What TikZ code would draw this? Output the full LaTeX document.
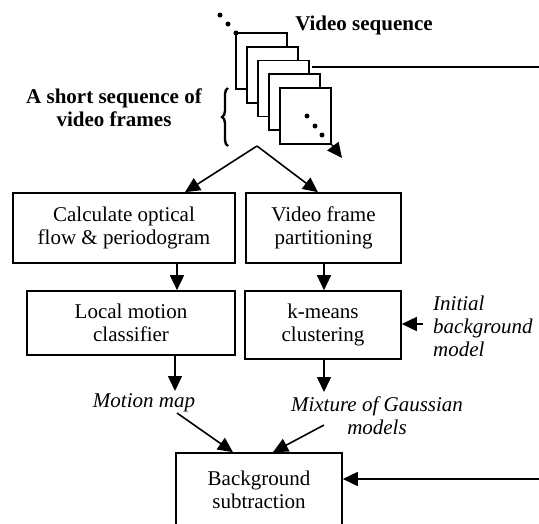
\documentclass[tikz,border=0pt]{standalone}
\usepackage{fontspec}
\setmainfont{Liberation Serif}
\usetikzlibrary{arrows.meta,decorations.pathreplacing}

\newcommand{\figfont}{\fontsize{21}{23}\selectfont}

\tikzset{
  box/.style={draw, line width=1.6pt, inner sep=0pt, align=center},
  arr/.style={line width=1.6pt, -{Triangle[length=15pt,width=14pt]}},
  frm/.style={draw, fill=white, line width=1.6pt, minimum width=51, minimum height=56, inner sep=0pt},
  lbl/.style={inner sep=0pt, align=center, font=\figfont\itshape},
  ttl/.style={inner sep=0pt, align=center, font=\figfont\bfseries}
}

\begin{document}
\begin{tikzpicture}[x=1pt, y=-1pt, font=\figfont]
\useasboundingbox (0,0) rectangle (539,523);
\clip (0,0) rectangle (539,523);

% stack of frames
\foreach \k in {0,...,4}
  \node[frm] (f\k) at ({261.2+11.1*\k},{61+13.75*\k}) {};
\fill (220,15) circle (2.5) (228,24) circle (2.5) (236,33) circle (2.5);
\fill (307,116) circle (2.5) (315,126) circle (2.5) (322,135) circle (2.5);
\draw[arr] (f4.south east) -- (342,158);
\node[ttl] (vseq) at (364,25) {Video sequence};

% short sequence
\draw[decorate, decoration={brace, amplitude=6pt}, line width=2.4pt] (228,146) -- (228,88);
\node[ttl] (short) at (114,108) {A short sequence of\\video frames};
\coordinate (split) at (257,146);

% boxes
\node[box, minimum width=222, minimum height=70] (optflow) at (124,228) {Calculate optical\\flow \& periodogram};
\node[box, minimum width=155, minimum height=70] (part) at (323.5,228) {Video frame\\partitioning};
\node[box, minimum width=208, minimum height=64] (lmc) at (131,323) {Local motion\\classifier};
\node[box, minimum width=156, minimum height=68] (kmeans) at (323,325) {k-means\\clustering};
\node[box, minimum width=166, minimum height=73] (bsub) at (259,489.5) {Background\\subtraction};

% labels
\node[lbl, align=left, anchor=west] (init) at (433,326) {Initial\\background\\model};
\node[lbl] (mmap) at (144,403) {Motion map};
\node[lbl] (mog) at (377,416) {Mixture of Gaussian\\models};

% connectors
\draw[arr] (split) -- (optflow.north -| 185,0);
\draw[arr] (split) -- (part.north -| 318,0);
\draw[arr] (optflow.south -| 177,0) -- (lmc.north -| 177,0);
\draw[arr] (part.south -| 324,0) -- (kmeans.north -| 324,0);
\draw[arr] (lmc.south -| 175,0) -- (175,391);
\draw[arr] (kmeans.south -| 324,0) -- (324,392);
\draw[arr, shorten <=10pt] (init.west |- 0,324) -- (kmeans.east |- 0,324);
\coordinate (m1) at (177,413);
\coordinate (m2) at (324,425);
\draw[arr] (m1) -- ([xshift=-26pt]bsub.north);
\draw[arr] (m2) -- ([xshift=14pt]bsub.north);

% lines from the right
\coordinate (seqout) at (312,67);
\coordinate (seqin) at (539,479);
\draw[line width=1.6pt] (seqout) -- (539,67);
\draw[arr] (seqin) -- (bsub.east |- seqin);
\end{tikzpicture}
\end{document}
